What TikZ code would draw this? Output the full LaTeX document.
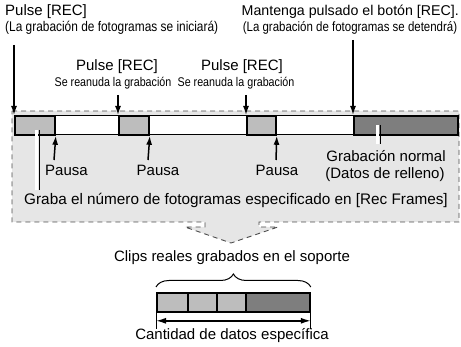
\documentclass[tikz,border=0pt]{standalone}
\usepackage{fontspec}
\setmainfont{Liberation Sans}
\newfontfamily\narrowfont[FakeStretch=0.85]{Liberation Sans}
\usepackage{xcolor}
\usepackage{tikz}
\usetikzlibrary{positioning, arrows.meta, decorations.pathreplacing}
\definecolor{areagray}{HTML}{E6E6E6}
\definecolor{framegray}{HTML}{BDBDBD}
\definecolor{fillgray}{HTML}{7E7E7E}

\tikzset{
  lbl/.style={inner sep=0pt, font=\fontsize{15}{17}\selectfont},
  note/.style={inner sep=0pt, font=\narrowfont\fontsize{14}{16}\selectfont},
  subnote/.style={note, font=\narrowfont\fontsize{12.6}{15}\selectfont},
  framebox/.style={draw=black, line width=1.8pt, fill=framegray, anchor=north west, inner sep=0pt, minimum height=19pt},
  fillbox/.style={framebox, fill=fillgray},
  pointer/.style={line width=1.5pt, -{Latex[length=9pt, width=6pt]}},
  halo/.style={white, line width=3pt}
}

\begin{document}
\begin{tikzpicture}[x=1pt, y=-1pt]
    \useasboundingbox (0,0) rectangle (461,347);

    % shaded area with the block arrow
    \draw[fill=areagray, draw=black!70, dash pattern=on 5pt off 4pt, line width=0.9pt]
      (12,111) -- (459,111) -- (459,222) -- (259,222) -- (259,227) -- (278,227)
      -- (231,243) -- (185,227) -- (205,227) -- (205,222) -- (12,222) -- cycle;

    % recording strip
    \node[draw=black, line width=0.8pt, fill=white, anchor=north west, inner sep=0pt,
          minimum width=443pt, minimum height=19pt] (strip) at (14,115) {};
    \node[framebox, minimum width=40pt] (f1) at (14,115) {};
    \node[framebox, minimum width=30pt] (f2) at (118,115) {};
    \node[framebox, minimum width=29pt] (f3) at (246,115) {};
    \node[fillbox, minimum width=104pt] (nrm) at (353,115) {};

    % top labels
    \node[lbl, anchor=west] (rec1) at (5,12) {Pulse [REC]};
    \node[note, anchor=west] (start) at (5,28) {(La grabación de fotogramas se iniciará)};
    \node[lbl] (rec2) at (117,67) {Pulse [REC]};
    \node[subnote] (res2) at (113,83) {Se reanuda la grabación};
    \node[lbl] (rec3) at (242,67) {Pulse [REC]};
    \node[subnote] (res3) at (236,83) {Se reanuda la grabación};
    \node[lbl, anchor=east, font=\fontsize{14.2}{17}\selectfont] (hold) at (459,12) {Mantenga pulsado el botón [REC].};
    \node[note, font=\narrowfont\fontsize{13.5}{16}\selectfont] (stop) at (350,28) {(La grabación de fotogramas se detendrá)};

    \coordinate (s1) at (14,45);
    \coordinate (s2) at (118,95);
    \coordinate (s3) at (246,95);
    \coordinate (s4) at (353,40);
    \draw[pointer] (s1) -- (f1.north west);
    \draw[pointer] (s2) -- (f2.north west);
    \draw[pointer] (s3) -- (f3.north west);
    \draw[pointer] (s4) -- (nrm.north west);

    % pauses
    \node[lbl, anchor=west] (pau1) at (45,170) {Pausa};
    \node[lbl] (pau2) at (158,170) {Pausa};
    \node[lbl] (pau3) at (277,170) {Pausa};
    \coordinate (p1) at (54,160);
    \coordinate (p2) at (148,160);
    \coordinate (p3) at (276,160);
    \draw[pointer] (p1) -- (f1.south east);
    \draw[pointer] (p2) -- (f2.south east);
    \draw[pointer] (p3) -- (f3.south east);

    % notes below the strip
    \node[lbl, font=\fontsize{15.3}{17}\selectfont] (frames) at (236,200) {Graba el número de fotogramas especificado en [Rec Frames]};
    \node[lbl] (normal) at (386,156) {Grabación normal};
    \node[lbl] (dummy) at (385,175) {(Datos de relleno)};
    \coordinate (c1) at (39,130);
    \coordinate (c2) at (39,190);
    \coordinate (c3) at (380,125);
    \coordinate (c4) at (380,144);
    \draw[halo] ([xshift=-2.5pt]c1) -- ([xshift=-2.5pt]c2);
    \draw[line width=1pt] (c1) -- (c2);
    \draw[halo] ([xshift=-2.5pt]c3) -- ([xshift=-2.5pt]c4);
    \draw[line width=1pt] (c3) -- (c4);

    % clips on the media
    \node[lbl] (clips) at (232,258) {Clips reales grabados en el soporte};
    \node[framebox, minimum width=31pt] (m1) at (156,292) {};
    \node[framebox, minimum width=29pt] (m2) at (187,292) {};
    \node[framebox, minimum width=29pt] (m3) at (216,292) {};
    \node[fillbox, minimum width=64pt] (m4) at (245,292) {};
    \draw[decorate, decoration={brace, amplitude=13pt}, line width=1pt]
      ([yshift=5pt]m1.north west) -- ([yshift=5pt]m4.north east);
    \draw[line width=0.8pt] (m1.south west) -- ++(0,16);
    \draw[line width=0.8pt] (m4.south east) -- ++(0,16);
    \coordinate (d1) at ([yshift=-8pt]m1.south west);
    \coordinate (d2) at ([yshift=-8pt]m4.south east);
    \draw[line width=1.5pt, {Latex[length=10pt, width=6pt]}-{Latex[length=10pt, width=6pt]}] (d1) -- (d2);
    \node[lbl] (amount) at (232,336) {Cantidad de datos específica};
\end{tikzpicture}
\end{document}
